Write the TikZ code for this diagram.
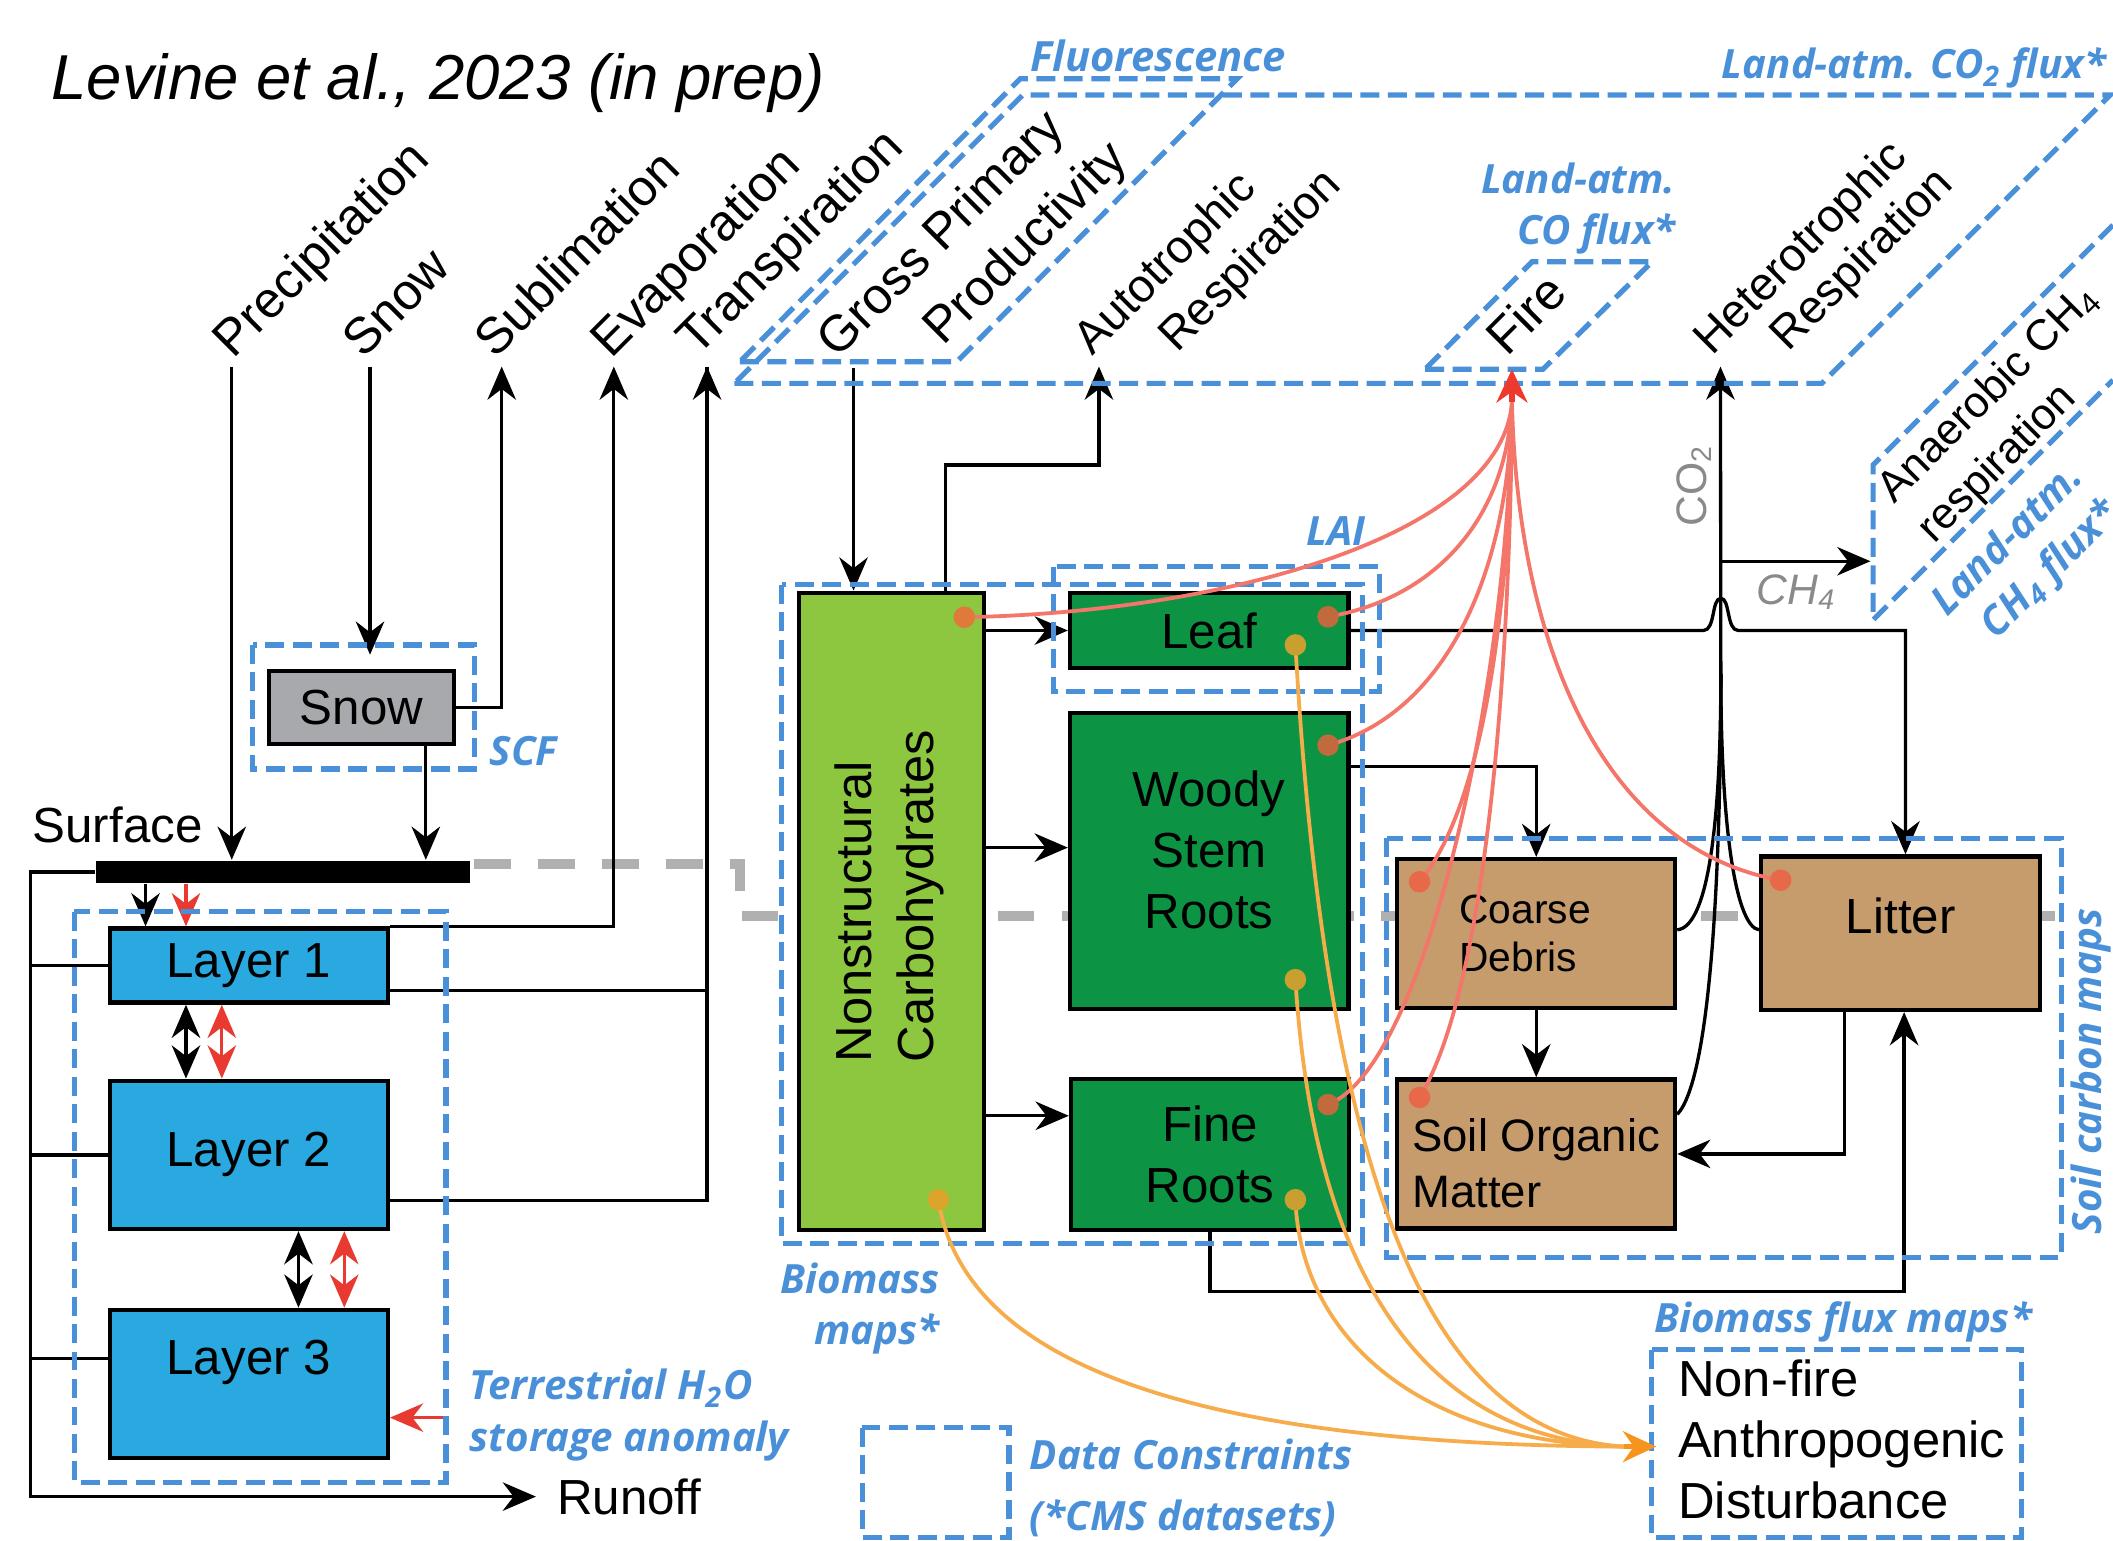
\documentclass[tikz,border=0pt]{standalone}
\usepackage{fontspec}
\setmainfont{Liberation Sans}
\newfontfamily\labfont{Open Sans}
\usetikzlibrary{arrows.meta}

\definecolor{water}{HTML}{29A9E0}
\definecolor{snowgrey}{HTML}{A7A9AC}
\definecolor{nscgreen}{HTML}{8DC63F}
\definecolor{leafgreen}{HTML}{0C9444}
\definecolor{soiltan}{HTML}{C69C6D}
\definecolor{obsblue}{HTML}{4A90D9}
\definecolor{firered}{HTML}{F4756A}
\definecolor{firetip}{HTML}{EE3A2E}
\definecolor{distorange}{HTML}{F7AC4B}
\definecolor{disttip}{HTML}{F7941D}
\definecolor{dotorange}{HTML}{E07A3A}
\definecolor{dotbrown}{HTML}{C06A3E}
\definecolor{dotred}{HTML}{E8694A}
\definecolor{dotgold}{HTML}{C9A030}
\definecolor{nscgold}{HTML}{DBA52B}
\definecolor{surfgrey}{HTML}{B0B0B0}
\definecolor{gastext}{HTML}{8A8A8A}
\definecolor{wred}{HTML}{E83A30}

\newcommand\poolfont{\fontsize{10.4}{12.9}\selectfont}
\newcommand\fluxfont{\fontsize{10.7}{12.9}\selectfont}
\newcommand\respfont{\fontsize{9.8}{12}\selectfont}
\newcommand\obsfont{\labfont\bfseries\itshape\fontsize{8.5}{10.8}\selectfont}

\begin{document}
\begin{tikzpicture}[x=0.01cm,y=-0.01cm,>={Stealth[length=7pt,width=6pt]},
    pool/.style={draw,line width=0.9pt,inner sep=0pt,font=\poolfont},
    layerbox/.style={pool,fill=water,minimum width=2.063cm},
    plantbox/.style={pool,fill=leafgreen,minimum width=2.065cm},
    soilbox/.style={pool,fill=soiltan,minimum width=2.06cm,minimum height=1.105cm,align=left},
    flux/.style={rotate=45,anchor=base west,inner sep=0pt,font=\fluxfont},
    obs/.style={draw=obsblue,line width=1.1pt,dash pattern=on 4pt off 1.8pt},
    obslabel/.style={text=obsblue,inner sep=0pt,font=\obsfont},
    link/.style={line width=0.7pt},
    firelink/.style={draw=firered,line width=0.8pt},
    distlink/.style={draw=distorange,line width=0.8pt},
    dot/.style={circle,inner sep=0pt,minimum size=0.16cm}]

    \useasboundingbox (0,0) rectangle (1568,1143);

    \draw[surfgrey,line width=2.1pt,dash pattern=on 7.7pt off 5.8pt] (352,641) -- (549,641) -- (549,680) -- (1525,680);

    \node[anchor=base west,inner sep=0pt,font=\fontsize{13.4}{16}\selectfont\itshape] (title) at (37.6,74) {Levine et al., 2023 (in prep)};

    \node[flux] (precip) at (173,267) {Precipitation};
    \node[flux] (snowfall) at (269,267) {Snow};
    \node[flux] (sublim) at (367,267) {Sublimation};
    \node[flux] (evap) at (453,267) {Evaporation};
    \node[flux] (transp) at (517,266) {Transpiration};
    \node[flux] (gpp) at (621,267) {Gross Primary};
    \node[flux] (gpp2) at (700,258) {Productivity};
    \node[flux,font=\respfont] (ar) at (810,265) {Autotrophic};
    \node[flux,font=\respfont] (ar2) at (873,263) {Respiration};
    \node[flux] (fire) at (1118,266) {Fire};
    \node[flux,font=\respfont] (hr) at (1270,265) {Heterotrophic};
    \node[flux,font=\respfont] (hr2) at (1327,262) {Respiration};
    \node[rotate=45,align=left,inner sep=0pt,font=\fontsize{9.2}{11.8}\selectfont] (anaer) at (1491,307) {Anaerobic CH\textsubscript{4}\\respiration};

    \node[pool,fill=snowgrey,minimum width=1.375cm,minimum height=0.54cm] (snow) at (268.3,525) {Snow};
    \node[fill=black,inner sep=0pt,minimum width=2.78cm,minimum height=0.165cm] (bar) at (210,647) {};
    \node[anchor=base west,inner sep=0pt,font=\poolfont] (surf) at (23.5,625.4) {Surface};
    \node[layerbox,minimum height=0.55cm] (layer1) at (184.6,716.5) {Layer 1};
    \node[layerbox,minimum height=1.1cm] (layer2) at (184.6,857) {Layer 2};
    \node[layerbox,minimum height=1.1cm,text depth=11.2pt] (layer3) at (184.6,1027) {Layer 3};
    \node[anchor=west,inner sep=0.15cm,font=\poolfont] (runoff) at (397.7,1110.6) {Runoff};

    \coordinate (pr) at (172,272);
    \coordinate (sf) at (274.6,272);
    \coordinate (sb) at (372.3,272);
    \coordinate (ev) at (455.5,272);
    \coordinate (tr) at (524.7,272);
    \coordinate (lb) at (22.7,647);
    \coordinate (l3t) at ([yshift=5.4pt]layer3.west);

    \draw[link,->] (pr) -- (pr |- bar.north);
    \draw[link,->,shorten >=3pt] (sf) -- (sf |- snow.north);
    \draw[link,->] (snow.east) -| (sb);
    \draw[link,->] (snow.south -| 316,0) -- (bar.north -| 316,0);
    \draw[link,->] (layer1.north east) -| (ev);
    \draw[link,->] ([yshift=3pt]layer1.south east) -| (tr);
    \draw[link] ([yshift=6.5pt]layer2.south east) -| (tr);
    \draw[link,->] (bar.west) -- (lb) |- (runoff.west);
    \draw[link] (lb |- layer1.west) -- (layer1.west);
    \draw[link] (lb |- layer2.west) -- (layer2.west);
    \draw[link] (lb |- l3t) -- (l3t);
    \draw[link,->] (bar.south -| 108,0) -- (layer1.north -| 108,0);
    \draw[link,wred,->] (bar.south -| 138,0) -- (layer1.north -| 138,0);
    \draw[link,<->] (layer1.south -| 138,0) -- (layer2.north -| 138,0);
    \draw[link,wred,<->] (layer1.south -| 164.6,0) -- (layer2.north -| 164.6,0);
    \draw[link,<->] (layer2.south -| 221.5,0) -- (layer3.north -| 221.5,0);
    \draw[link,wred,<->] (layer2.south -| 255.5,0) -- (layer3.north -| 255.5,0);
    \draw[link,wred,->] (328.5,1052) -- (layer3.east |- 0,1052);

    \node[pool,fill=nscgreen,minimum width=1.37cm,minimum height=4.725cm] (nsc) at (661.5,676.25) {};
    \node[rotate=90,align=left,inner sep=0pt,font=\fluxfont] (nsclabel) at (660,665) {Nonstructural\\Carbohydrates};
    \node[plantbox,minimum height=0.557cm] (leaf) at (897.3,467.9) {Leaf};
    \node[plantbox,minimum height=2.196cm,align=center,text depth=4.6pt] (woody) at (897.3,638.8) {Woody\\Stem\\Roots};
    \node[plantbox,minimum height=1.118cm,align=center] (fine) at (898,856.6) {Fine\\Roots};
    \node[soilbox,text width=1.14cm,inner xsep=0.46cm,font=\fontsize{8.6}{10}\selectfont] (coarse) at (1140,692.8) {Coarse\\Debris};
    \node[soilbox,font=\fontsize{9.6}{11.8}\selectfont] (som) at (1140,856.3) {\rule{0pt}{11pt}Soil Organic\\Matter};
    \node[pool,fill=soiltan,minimum width=2.07cm,minimum height=1.139cm,text depth=7.4pt] (litter) at (1410.5,692.5) {Litter};
    \node[anchor=north west,align=left,inner sep=0pt,font=\fluxfont] (dist) at (1244.6,1008) {Non-fire\\Anthropogenic\\Disturbance};

    \coordinate (gp) at (633.4,273);
    \coordinate (ra) at (815.5,272);
    \coordinate (hj) at (1277,500);
    \coordinate (rh) at (1276.7,272);
    \coordinate (ch4in) at (1388,416.5);

    \draw[link,->] (gp) -- (gp |- nsc.north);
    \draw[link,->] (nsc.north -| 701.6,0) |- (ra |- 0,345) -- (ra);
    \draw[link,->] (nsc.east |- leaf.west) -- (leaf.west);
    \draw[link,->] (nsc.east |- 0,629) -- (woody.west |- 0,629);
    \draw[link,->] (nsc.east |- 0,828) -- (fine.west |- 0,828);
    \draw[link,->] (leaf.east) -- (1264,467.9) .. controls (1273,467.9) and (1270,444) .. (1277,444) .. controls (1284,444) and (1281,467.9) .. (1290,467.9) -| (litter.north -| 1414,0);
    \draw[link,->] (woody.east |- 0,569) -| (coarse.north);
    \draw[link,->] (coarse.south) -- (som.north);
    \draw[link,->] (litter.south -| 1368.5,0) |- (som.east);
    \draw[link,->] (fine.south) |- (1413,958.5) -- (litter.south -| 1413,0);
    \draw[link] (coarse.east |- 0,690) .. controls (1266,688) and (1277,620) .. (hj);
    \draw[link] (litter.west |- 0,690) .. controls (1289,688) and (1277,620) .. (hj);
    \draw[link] (som.east |- 0,827) .. controls (1270,800) and (1277,640) .. (hj);
    \draw[link,->] (hj) -- (rh);
    \draw[link,->] (hj |- ch4in) -- (ch4in);
    \node[rotate=90,inner sep=0pt,text=gastext,font=\fontsize{9}{11}\selectfont] (co2) at (1257,360) {CO\textsubscript{2}};
    \node[anchor=base west,inner sep=0pt,text=gastext,font=\fontsize{9}{11}\selectfont\itshape] (ch4) at (1303,448.6) {CH\textsubscript{4}};

    \draw[obs] (549,268.5) -- (710,268.5) -- (918,58.5) -- (757,58.5) -- cycle;
    \draw[obs] (545,284.5) -- (1352,284.5) -- (1566,70.5) -- (759,70.5) -- cycle;
    \draw[obs] (1057.5,274) -- (1145,274) -- (1226,194.2) -- (1137,194.2) -- cycle;
    \draw[obs] (1568,167) -- (1390,345) -- (1390,460) -- (1568,282);
    \draw[obs] (187.4,478.6) rectangle (352,570.6);
    \draw[obs] (55,676.6) rectangle (331,1100);
    \draw[obs] (580,434) rectangle (1011,922.6);
    \draw[obs] (782,420.6) rectangle (1023.6,513.4);
    \draw[obs] (1029,622) rectangle (1529.8,933);
    \draw[obs] (1225.6,1001.5) rectangle (1500,1141);
    \draw[obs] (640,1059.6) rectangle (748.7,1141);

    \node[obslabel,anchor=base west,font=\obsfont\fontsize{8.8}{10.8}\selectfont] (fluor) at (764,53) {Fluorescence};
    \node[obslabel,anchor=base east] (co2flux) at (1563.6,58.5) {Land-atm. CO\textsubscript{2} flux*};
    \node[obslabel,anchor=east,align=right] (coflux) at (1244,155) {Land-atm.\\CO flux*};
    \node[obslabel,rotate=45,align=right] (ch4flux) at (1504,415) {Land-atm.\\CH\textsubscript{4} flux*};
    \node[obslabel,anchor=base west] (lai) at (969,404.6) {LAI};
    \node[obslabel,anchor=base west] (scf) at (362.7,567.8) {SCF};
    \node[obslabel,anchor=west,align=left] (tws) at (348,1050) {Terrestrial H\textsubscript{2}O\\storage anomaly};
    \node[obslabel,anchor=east,align=right] (biomass) at (698,971) {Biomass\\maps*};
    \node[obslabel,anchor=base west] (bflux) at (1227,989) {Biomass flux maps*};
    \node[obslabel,rotate=90] (soilc) at (1552,795) {Soil carbon maps};
    \node[obslabel,anchor=west,align=left] (legend) at (763.6,1104) {Data Constraints\\[2.1pt](*CMS datasets)};

    \coordinate (fi) at (1122,298);
    \coordinate (fo) at (1122,274);
    \coordinate (bf) at (1205,1073.5);
    \coordinate (bfin) at (1229,1073.5);
    \coordinate (nscf) at (715.6,458);
    \coordinate (leaff) at (985.5,457.7);
    \coordinate (woodyf) at (985.5,553);
    \coordinate (finef) at (985.5,819.7);
    \coordinate (coarsef) at (1053.4,654.3);
    \coordinate (somf) at (1053.4,814.4);
    \coordinate (litterf) at (1321.4,653.2);
    \coordinate (nscd) at (696.3,890.3);
    \coordinate (leafd) at (961.3,478.6);
    \coordinate (woodyd) at (961.3,727);
    \coordinate (fined) at (961.3,890.3);

    \draw[firelink] (nscf) .. controls (900,455) and (1115,400) .. (fi);
    \draw[firelink] (leaff) .. controls (1060,445) and (1118,390) .. (fi);
    \draw[firelink] (woodyf) .. controls (1070,530) and (1120,430) .. (fi);
    \draw[firelink] (finef) .. controls (1060,790) and (1120,500) .. (fi);
    \draw[firelink] (coarsef) .. controls (1100,600) and (1121,450) .. (fi);
    \draw[firelink] (somf) .. controls (1105,730) and (1121,480) .. (fi);
    \draw[firelink] (litterf) .. controls (1190,630) and (1126,480) .. (fi);
    \draw[firetip,line width=1.2pt,-{Stealth[length=7pt,width=6.5pt]}] (fi) -- (fo);

    \draw[distlink] (nscd) .. controls (715,1010) and (880,1072) .. (bf);
    \draw[distlink] (leafd) .. controls (985,900) and (1070,1065) .. (bf);
    \draw[distlink] (woodyd) .. controls (975,950) and (1060,1068) .. (bf);
    \draw[distlink] (fined) .. controls (965,990) and (1050,1070) .. (bf);
    \draw[disttip,line width=1.2pt,-{Stealth[length=7pt,width=6.5pt]}] (bf) -- (bfin);

    \node[dot,fill=dotorange] (d1) at (nscf) {};
    \node[dot,fill=dotbrown] (d2) at (leaff) {};
    \node[dot,fill=dotbrown] (d3) at (woodyf) {};
    \node[dot,fill=dotbrown] (d4) at (finef) {};
    \node[dot,fill=dotred] (d5) at (coarsef) {};
    \node[dot,fill=dotred] (d6) at (somf) {};
    \node[dot,fill=dotred] (d7) at (litterf) {};
    \node[dot,fill=nscgold] (d8) at (nscd) {};
    \node[dot,fill=dotgold] (d9) at (leafd) {};
    \node[dot,fill=dotgold] (d10) at (woodyd) {};
    \node[dot,fill=dotgold] (d11) at (fined) {};
\end{tikzpicture}
\end{document}
